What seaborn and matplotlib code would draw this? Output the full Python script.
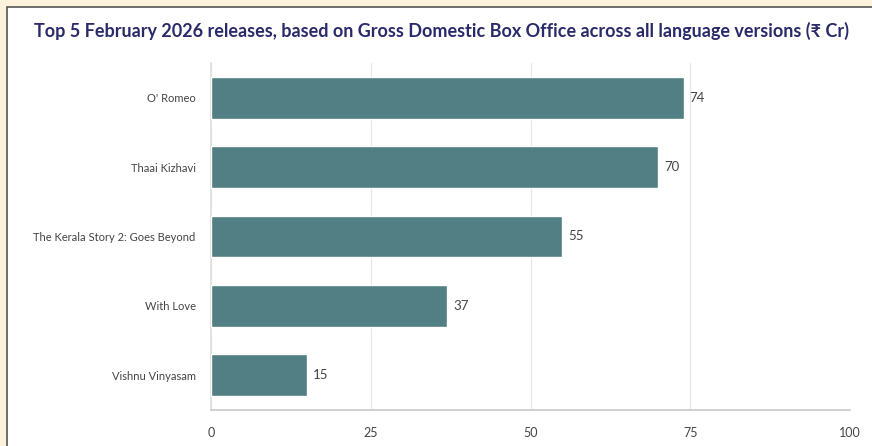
import matplotlib
matplotlib.use("Agg")
import matplotlib.pyplot as plt
import seaborn as sns
import pandas as pd
from matplotlib.patches import Rectangle

# data
films = ["O' Romeo", "Thaai Kizhavi", "The Kerala Story 2: Goes Beyond", "With Love", "Vishnu Vinyasam"]
gross = [74, 70, 55, 37, 15]
x_ticks = [0, 25, 50, 75, 100]

title = "Top 5 February 2026 releases, based on Gross Domestic Box Office across all language versions (₹ Cr)"

df = pd.DataFrame({"film": films, "gross": gross})

sns.set_theme(style="white")
plt.rcParams["font.family"] = ["Lato", "DejaVu Sans"]

fig = plt.figure(figsize=(8.72, 4.46), dpi=100)
fig.patch.set_facecolor("#fdf2dc")

# white card with dark edge at left/top
W, H = 872, 446
card = Rectangle((7 / W, -0.1), 1.2, 1 + 0.1 - 7 / H, transform=fig.transFigure,
                 facecolor="white", edgecolor="#555555", linewidth=1.2, zorder=-5)
fig.patches.append(card)

ax = fig.add_axes([211 / W, 36 / H, 639 / W, 347 / H])
ax.patch.set_alpha(0)

sns.barplot(data=df, x="gross", y="film", color="#527f84", saturation=1,
            width=0.6, ax=ax, zorder=3)

# value labels next to bars
for i, v in enumerate(gross):
    ax.text(v + 0.9, i, f"{v}", va="center", ha="left", fontsize=9.5, color="#444444")

ax.set_xlim(0, 100)
ax.set_xticks(x_ticks)
ax.set_xticklabels([str(t) for t in x_ticks], fontsize=9, color="#444444")
ax.tick_params(axis="x", length=4, color="#cccccc", pad=8)
ax.tick_params(axis="y", length=0, labelsize=8, labelcolor="#444444", pad=11)
ax.set_xlabel("")
ax.set_ylabel("")
ax.grid(axis="x", color="#e6e6e6", linewidth=0.8, zorder=0)
ax.set_axisbelow(True)

for s in ["top", "right"]:
    ax.spines[s].set_visible(False)
ax.spines["bottom"].set_color("#cccccc")
ax.spines["left"].set_color("#e0e0e0")

fig.text(441 / W, 1 - 31 / H, title, ha="center", va="center", fontsize=13,
         fontweight="bold", color="#2a2a6a")

plt.savefig("out.png", dpi=100, facecolor=fig.get_facecolor())
